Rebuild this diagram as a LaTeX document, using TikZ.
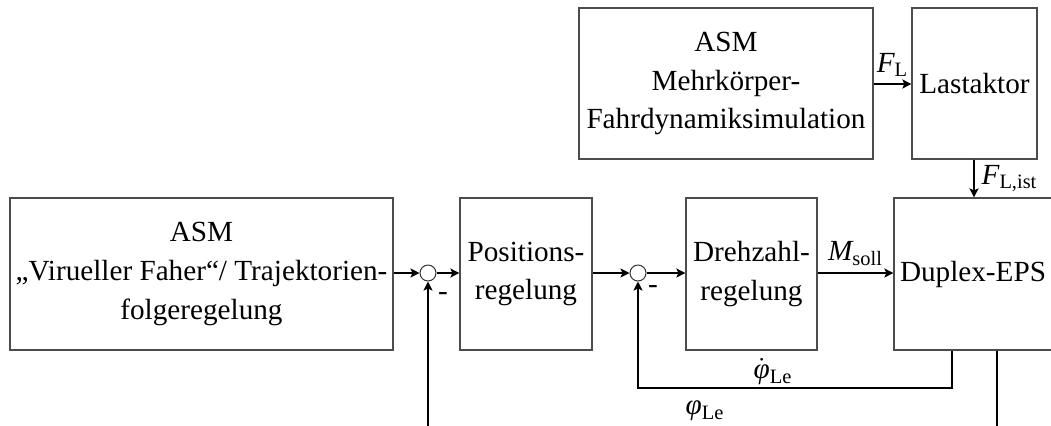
\documentclass[tikz,border=0pt]{standalone}
\usepackage{fontspec}
\setmainfont{Liberation Serif}
\usetikzlibrary{arrows.meta}
\newcommand{\varsub}[2]{{\itshape #1}\textsubscript{#2}}
\newcommand{\phidot}{\ensuremath{\dot{\mbox{\itshape φ}}}}
\begin{document}
\begin{tikzpicture}[x=0.5pt,y=-0.5pt,
  font=\fontsize{14.6}{19.3}\selectfont,
  blockbox/.style={draw=black!70,line width=0.6pt,rectangle,inner sep=0pt,align=center,minimum height=76pt},
  sumnode/.style={draw=black!80,line width=0.5pt,circle,inner sep=0pt,minimum size=8pt},
  conn/.style={line width=1pt,-{Stealth[length=4.5pt,width=4.5pt,inset=1pt]}},
  line/.style={line width=1pt}]
\useasboundingbox (0,0) rectangle (1051,425);
\clip (0,0) rectangle (1051,425);
% nodes
\node[blockbox,minimum width=147pt,minimum height=75.5pt] (asmtop) at (726,83.5) {ASM\\Mehrkörper-\\Fahrdynamiksimulation};
\node[blockbox,minimum width=62.5pt,minimum height=75.5pt] (last) at (974.5,83.5) {Lastaktor};
\node[blockbox,minimum width=191.5pt] (asmleft) at (201.5,274) {ASM\\„Virueller Faher“/ Trajektorien-\\folgeregelung};
\node[sumnode] (sum1) at (428,273) {};
\node[blockbox,minimum width=66pt] (pos) at (526,274) {Positions-\\regelung};
\node[sumnode] (sum2) at (638,273) {};
\node[blockbox,minimum width=65.5pt] (dreh) at (751.5,274) {Drehzahl-\\regelung};
\node[blockbox,minimum width=79pt] (duplex) at (973,274) {Duplex-EPS};
\node (m1) at (443,297) {-};
\node (m2) at (653,290) {-};
% connectors
\draw[conn] (asmtop.east |- 0,84) -- node[above] (fl) {\varsub{F}{L}} (last.west |- 0,84);
\draw[conn] (last.south -| 974,0) -- node[right] (flist) {\varsub{F}{L,ist}} (duplex.north -| 974,0);
\draw[conn] (asmleft.east |- sum1) -- (sum1.west);
\draw[conn] (sum1.east) -- (pos.west |- sum1);
\draw[conn] (pos.east |- sum2) -- (sum2.west);
\draw[conn] (sum2.east) -- (dreh.west |- sum2);
\draw[conn] (dreh.east |- sum2) -- node[above] (msoll) {\varsub{M}{soll}} (duplex.west |- sum2);
\coordinate (fb1a) at (952,388);
\coordinate (fb2a) at (997,460);
\draw[conn] (duplex.south -| fb1a) -- (fb1a) -- node[above,pos=0.57,inner sep=1pt] (phid) {\phidot\textsubscript{Le}} (fb1a -| sum2) -- (sum2.south);
\draw[conn] (duplex.south -| fb2a) -- (fb2a) -- (fb2a -| sum1) -- (sum1.south);
\node (phi) at (705,411) {{\itshape φ}\textsubscript{Le}};
\end{tikzpicture}
\end{document}
